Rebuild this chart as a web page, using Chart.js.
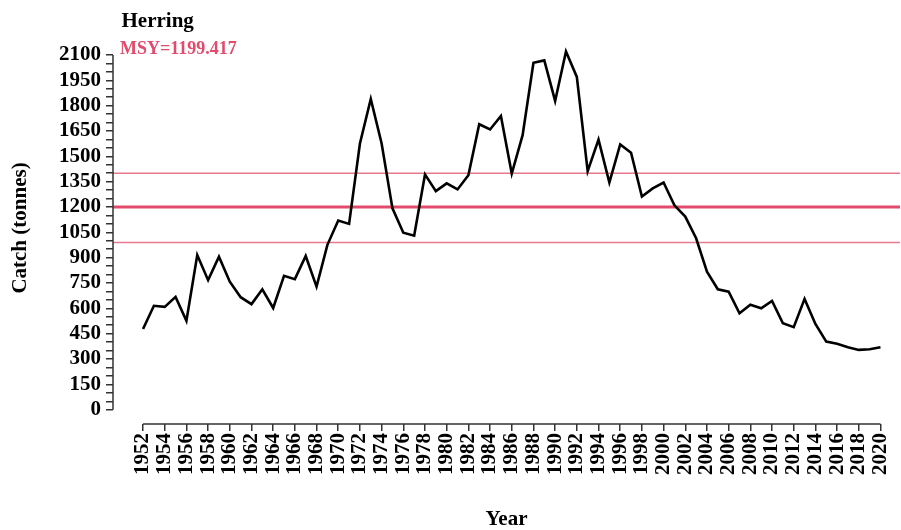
<!DOCTYPE html>
<html>
<head>
<meta charset="utf-8">
<title>Herring catch</title>
<script src="https://cdn.jsdelivr.net/npm/chart.js@4.4.1/dist/chart.umd.min.js"></script>
<style>
	html, body { margin: 0; padding: 0; background: #fff; }
	#chart { display: block; }
</style>
</head>
<body>
<canvas id="chart" width="901" height="530"></canvas>
<script>
	// data
	var species = 'Herring';
	var years = [
		1952, 1953, 1954, 1955, 1956, 1957, 1958, 1959, 1960, 1961,
		1962, 1963, 1964, 1965, 1966, 1967, 1968, 1969, 1970, 1971,
		1972, 1973, 1974, 1975, 1976, 1977, 1978, 1979, 1980, 1981,
		1982, 1983, 1984, 1985, 1986, 1987, 1988, 1989, 1990, 1991,
		1992, 1993, 1994, 1995, 1996, 1997, 1998, 1999, 2000, 2001,
		2002, 2003, 2004, 2005, 2006, 2007, 2008, 2009, 2010, 2011,
		2012, 2013, 2014, 2015, 2016, 2017, 2018, 2019, 2020
	];
	var catchTonnes = [
		478, 615, 609, 668, 526, 916, 767, 906, 758, 666,
		625, 713, 602, 793, 773, 910, 729, 976, 1120, 1100,
		1576, 1840, 1576, 1192, 1048, 1030, 1393, 1294, 1340, 1304,
		1388, 1690, 1659, 1739, 1398, 1625, 2054, 2068, 1828, 2121,
		1970, 1412, 1599, 1345, 1570, 1521, 1262, 1310, 1345, 1210,
		1143, 1015, 817, 713, 699, 571, 621, 600, 644, 512,
		489, 656, 508, 403, 390, 370, 354, 358, 370
	];
	var msy = 1199.417;
	var msyUpper = 1400;
	var msyLower = 990;
	var xTickLabels = [
		1952, 1954, 1956, 1958, 1960, 1962, 1964, 1966, 1968, 1970,
		1972, 1974, 1976, 1978, 1980, 1982, 1984, 1986, 1988, 1990,
		1992, 1994, 1996, 1998, 2000, 2002, 2004, 2006, 2008, 2010,
		2012, 2014, 2016, 2018, 2020
	];
	var yTickLabels = [0, 150, 300, 450, 600, 750, 900, 1050, 1200, 1350, 1500, 1650, 1800, 1950, 2100];
	var yMinorPerMajor = 3;

	var serif = '"Liberation Serif", "Times New Roman", serif';
	var msyColor = '#e24b6c';

	var xMin = 1949.23, xMax = 2021.8;
	var yMin = -84.6, yMax = 2236;

	// minor ticks between the labelled ones (every 50 t)
	var yTickValues = [];
	for (var i = 0; i < yTickLabels.length; i++) {
		yTickValues.push(yTickLabels[i]);
		if (i < yTickLabels.length - 1) {
			var step = (yTickLabels[i + 1] - yTickLabels[i]) / yMinorPerMajor;
			for (var k = 1; k < yMinorPerMajor; k++) {
				yTickValues.push(yTickLabels[i] + step * k);
			}
		}
	}

	var catchPoints = years.map(function (yr, i) { return { x: yr, y: catchTonnes[i] }; });
	function hline(v) { return [{ x: xMin, y: v }, { x: xMax, y: v }]; }

	function noPadding(s) {
		s.paddingLeft = 0;
		s.paddingRight = 0;
		s.paddingTop = 0;
		s.paddingBottom = 0;
	}

	var axesAndNotes = {
		id: 'axesAndNotes',
		afterDraw: function (chart) {
			var ctx = chart.ctx;
			var xs = chart.scales.x;
			var ys = chart.scales.y;
			var area = chart.chartArea;
			ctx.save();
			ctx.strokeStyle = '#333';
			ctx.lineWidth = 1.5;
			ctx.beginPath();
			ctx.moveTo(xs.getPixelForValue(xTickLabels[0]), area.bottom);
			ctx.lineTo(xs.getPixelForValue(xTickLabels[xTickLabels.length - 1]), area.bottom);
			ctx.moveTo(area.left, ys.getPixelForValue(yTickLabels[0]));
			ctx.lineTo(area.left, ys.getPixelForValue(yTickLabels[yTickLabels.length - 1]));
			ctx.stroke();

			ctx.textBaseline = 'alphabetic';
			ctx.textAlign = 'left';
			ctx.fillStyle = '#000';
			ctx.font = 'bold 21px ' + serif;
			ctx.fillText(species, area.left + 8.5, 27);
			ctx.fillStyle = msyColor;
			ctx.font = 'bold 18px ' + serif;
			ctx.fillText('MSY=' + msy, area.left + 7, 54);
			ctx.restore();
		}
	};

	new Chart(document.getElementById('chart'), {
		type: 'line',
		data: {
			datasets: [{
				label: 'Catch',
				data: catchPoints,
				borderColor: '#000',
				borderWidth: 2.6,
				pointRadius: 0,
				tension: 0,
				order: 0
			}, {
				label: 'MSY',
				data: hline(msy),
				borderColor: msyColor,
				borderWidth: 3,
				pointRadius: 0,
				order: 1
			}, {
				label: 'MSY upper',
				data: hline(msyUpper),
				borderColor: 'rgba(226, 75, 108, 0.75)',
				borderWidth: 1.5,
				pointRadius: 0,
				order: 1
			}, {
				label: 'MSY lower',
				data: hline(msyLower),
				borderColor: 'rgba(226, 75, 108, 0.75)',
				borderWidth: 1.5,
				pointRadius: 0,
				order: 1
			}]
		},
		options: {
			responsive: false,
			animation: false,
			devicePixelRatio: 1,
			layout: { padding: { top: 32, right: 1, left: 0, bottom: 0 } },
			plugins: {
				legend: { display: false },
				tooltip: { enabled: false },
				title: { display: false }
			},
			scales: {
				x: {
					type: 'linear',
					position: 'bottom',
					min: xMin,
					max: xMax,
					afterBuildTicks: function (s) {
						s.ticks = xTickLabels.map(function (v) { return { value: v }; });
					},
					afterFit: function (s) { s.height = 106; noPadding(s); },
					border: { display: false },
					grid: { display: true, drawOnChartArea: false, drawTicks: true, tickLength: 7, color: '#333', lineWidth: 1.5 },
					ticks: {
						autoSkip: false,
						minRotation: 90,
						maxRotation: 90,
						padding: 2,
						color: '#000',
						font: { family: serif, size: 21, weight: 'bold' },
						callback: function (v) { return String(v); }
					},
					title: {
						display: true,
						text: 'Year',
						color: '#000',
						font: { family: serif, size: 21, weight: 'bold' },
						padding: { top: 0, bottom: -2 }
					}
				},
				y: {
					type: 'linear',
					position: 'left',
					min: yMin,
					max: yMax,
					afterBuildTicks: function (s) {
						s.ticks = yTickValues.map(function (v) { return { value: v }; });
					},
					afterFit: function (s) { s.width = 113; noPadding(s); },
					border: { display: false },
					grid: { display: true, drawOnChartArea: false, drawTicks: true, tickLength: 7, color: '#333', lineWidth: 1.5 },
					ticks: {
						autoSkip: false,
						padding: 5,
						color: '#000',
						font: { family: serif, size: 21, weight: 'bold' },
						callback: function (v) { return yTickLabels.indexOf(v) >= 0 ? String(v) : ''; }
					},
					title: {
						display: true,
						text: 'Catch (tonnes)',
						color: '#000',
						font: { family: serif, size: 21, weight: 'bold' },
						padding: { top: 8, bottom: 0 }
					}
				}
			}
		},
		plugins: [axesAndNotes]
	});
</script>
</body>
</html>
